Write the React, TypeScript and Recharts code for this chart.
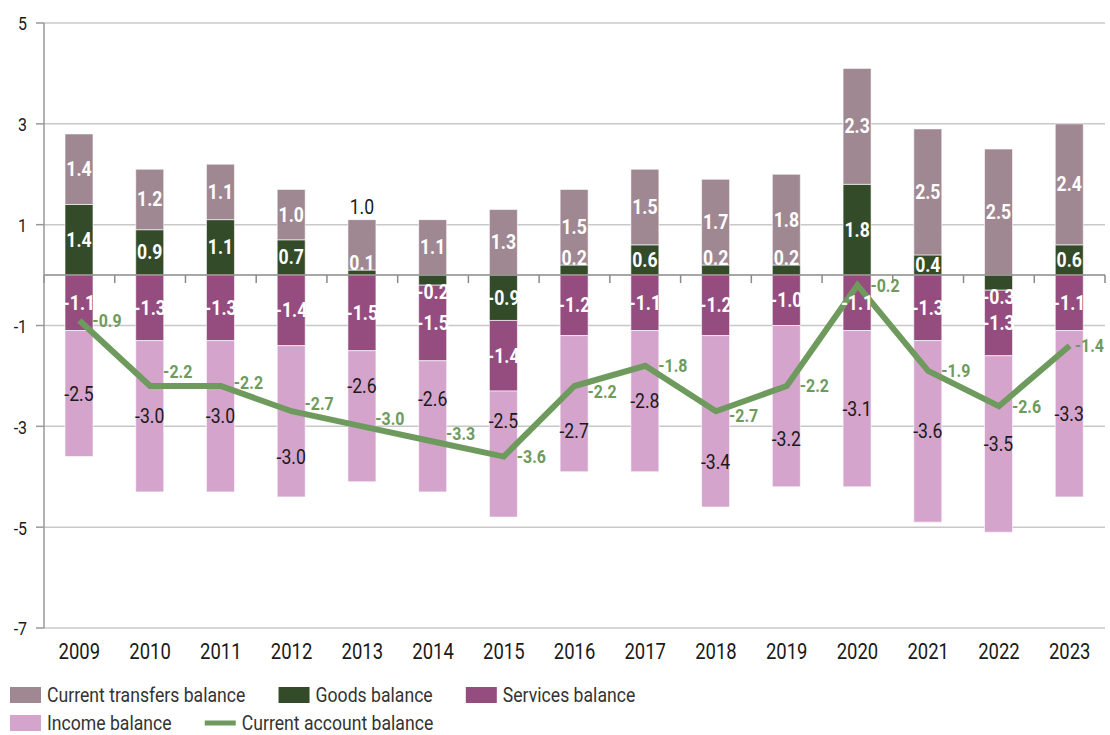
import React from 'react';
import { ComposedChart, Bar, Line, XAxis, YAxis, CartesianGrid, ReferenceLine, LabelList, Legend } from 'recharts';

const years = ['2009', '2010', '2011', '2012', '2013', '2014', '2015', '2016', '2017', '2018', '2019', '2020', '2021', '2022', '2023'];
const transfers = [1.4, 1.2, 1.1, 1.0, 1.0, 1.1, 1.3, 1.5, 1.5, 1.7, 1.8, 2.3, 2.5, 2.5, 2.4];
const goods = [1.4, 0.9, 1.1, 0.7, 0.1, -0.2, -0.9, 0.2, 0.6, 0.2, 0.2, 1.8, 0.4, -0.3, 0.6];
const services = [-1.1, -1.3, -1.3, -1.4, -1.5, -1.5, -1.4, -1.2, -1.1, -1.2, -1.0, -1.1, -1.3, -1.3, -1.1];
const income = [-2.5, -3.0, -3.0, -3.0, -2.6, -2.6, -2.5, -2.7, -2.8, -3.4, -3.2, -3.1, -3.6, -3.5, -3.3];
const currentAccount = [-0.9, -2.2, -2.2, -2.7, -3.0, -3.3, -3.6, -2.2, -1.8, -2.7, -2.2, -0.2, -1.9, -2.6, -1.4];
const yTicks = [-7, -5, -3, -1, 1, 3, 5];

// no condensed face installed, so squeeze Roboto horizontally
const FONT = 'Roboto, sans-serif';
const SX = 0.84;
const C_TRANSFERS = '#a08892';
const C_GOODS = '#344b29';
const C_SERVICES = '#954c7f';
const C_INCOME = '#d4a4cc';
const C_LINE = '#6e9b5d';
const C_TEXT = '#1a1a1a';

const CHART_W = 1110;
const CHART_H = 735;
const MARGIN_TOP = 23;
const LEGEND_H = 56;
const XAXIS_H = 51;
const PX_PER_UNIT = (CHART_H - MARGIN_TOP - LEGEND_H - XAXIS_H) / (yTicks[yTicks.length - 1] - yTicks[0]);

const data = years.map((year, i) => ({
    year,
    transfers: transfers[i],
    goods: goods[i],
    services: services[i],
    income: income[i],
    current: currentAccount[i],
}));

const edgeTicks = Array.from({ length: years.length + 1 }, (_, i) => i);

// small segments get their label pushed just past the outer edge
const SMALL = 0.35;

let ctx: CanvasRenderingContext2D | null = null;
const textWidth = (s: string, size = 21, bold = false) => {
    if (!ctx) ctx = document.createElement('canvas').getContext('2d');
    if (!ctx) return s.length * size * 0.45;
    ctx.font = `${bold ? 'bold ' : ''}${size}px ${FONT}`;
    return ctx.measureText(s).width * SX;
};

const Cond = ({ x, y, children, anchor = 'middle', fill = C_TEXT, size = 21, bold = false }: any) => (
    <text transform={`translate(${x},${y}) scale(${SX},1)`} x={0} y={0} textAnchor={anchor}
        dominantBaseline="central" fill={fill} fontSize={size} fontWeight={bold ? 700 : 400} fontFamily={FONT}>
        {children}
    </text>
);

const box = (p: any) => {
    const vb = p.viewBox || {};
    const x = p.x ?? vb.x;
    const y = p.y ?? vb.y;
    const w = p.width ?? vb.width ?? 0;
    const h = p.height ?? vb.height ?? 0;
    return { x: Number(x), y: Number(y), w: Number(w), h: Number(h) };
};

const GoodsLabel = (p: any) => {
    const v = goods[p.index];
    const { x, y, w, h } = box(p);
    const top = Math.min(y, y + h);
    const bottom = Math.max(y, y + h);
    let cy = (top + bottom) / 2;
    if (Math.abs(v) < SMALL) cy = v > 0 ? top - 7 : bottom + 7;
    return <Cond x={x + w / 2} y={cy} fill="#ffffff" bold>{v.toFixed(1)}</Cond>;
};

const TransfersLabel = (p: any) => {
    const v = transfers[p.index];
    const g = goods[p.index];
    const { x, y, w, h } = box(p);
    const top = Math.min(y, y + h);
    const bottom = Math.max(y, y + h);
    if (g > 0 && g < SMALL && v <= 1.0) {
        return <Cond x={x + w / 2} y={top - 13}>{v.toFixed(1)}</Cond>;
    }
    return <Cond x={x + w / 2} y={(top + bottom) / 2} fill="#ffffff" bold>{v.toFixed(1)}</Cond>;
};

const ServicesLabel = (p: any) => {
    const v = services[p.index];
    const { x, y, w, h } = box(p);
    return <Cond x={x + w / 2} y={y + h / 2} fill="#ffffff" bold>{v.toFixed(1)}</Cond>;
};

// income label moves off the current-account line when the line crosses it
const IncomeLabel = (p: any) => {
    const i = p.index;
    const v = income[i];
    const { x, y, w, h } = box(p);
    const top = Math.min(y, y + h);
    const bottom = Math.max(y, y + h);
    const upper = Math.min(goods[i], 0) + services[i];
    const lower = upper + v;
    const lineY = top + ((upper - currentAccount[i]) / (upper - lower)) * (bottom - top);
    let cy = (top + bottom) / 2;
    if (lineY > top && lineY < bottom && Math.abs(cy - lineY) < 25) {
        const above = lineY - 5 - top;
        const below = bottom - (lineY + 5);
        cy = above > below ? (top + lineY - 5) / 2 : (lineY + 5 + bottom) / 2;
    }
    return <Cond x={x + w / 2} y={cy}>{v.toFixed(1)}</Cond>;
};

// line label sits right of the point, nudged away from the outgoing segment
const LineLabel = (p: any) => {
    const i = p.index;
    const v = currentAccount[i];
    const txt = v.toFixed(1);
    const { x, y } = box(p);
    let dy = 0;
    if (i < currentAccount.length - 1) {
        const d = (currentAccount[i + 1] - v) * PX_PER_UNIT * (28 / 70);
        if (Math.abs(d) < 14) dy = d <= 0 ? -(14 - Math.abs(d)) : 14 - d;
    }
    const lx = Math.min(x + 13, CHART_W - 6 - textWidth(txt, 19, true));
    return <Cond x={lx} y={y + dy} anchor="start" fill={C_LINE} size={19} bold>{txt}</Cond>;
};

const XTick = (p: any) => (
    <Cond x={p.x} y={p.y} size={22}>{p.payload.value}</Cond>
);

const YTick = (p: any) => (
    <Cond x={p.x} y={p.y + 1} anchor="end" size={19}>{p.payload.value}</Cond>
);

const ZeroLine = (p: any) => {
    const { x1, y1, x2, y2 } = p;
    const step = (x2 - x1) / years.length;
    return (
        <g>
            <line x1={x1} y1={y1} x2={x2} y2={y2} stroke="#8a8a8a" strokeWidth={1.5} />
            {edgeTicks.map(i => (
                <line key={i} x1={x1 + i * step} x2={x1 + i * step} y1={y1} y2={y1 + 8} stroke="#8a8a8a" strokeWidth={1.5} />
            ))}
        </g>
    );
};

const legendRows = [
    [
        { name: 'Current transfers balance', color: C_TRANSFERS, kind: 'box' },
        { name: 'Goods balance', color: C_GOODS, kind: 'box' },
        { name: 'Services balance', color: C_SERVICES, kind: 'box' },
    ],
    [
        { name: 'Income balance', color: C_INCOME, kind: 'box' },
        { name: 'Current account balance', color: C_LINE, kind: 'line' },
    ],
];

const renderLegend = () => {
    const rowH = 28;
    return (
        <svg width={800} height={LEGEND_H} style={{ display: 'block' }}>
            {legendRows.map((row, r) => {
                let cx = 10;
                const cy = r * rowH + 16;
                return row.map(item => {
                    const x0 = cx;
                    const tw = textWidth(item.name);
                    cx += 31 + 7 + tw + 32;
                    return (
                        <g key={item.name}>
                            {item.kind === 'box'
                                ? <rect x={x0} y={cy - 8} width={31} height={16} fill={item.color} />
                                : <rect x={x0} y={cy - 2.5} width={31} height={5} fill={item.color} />}
                            <Cond x={x0 + 37} y={cy} anchor="start" fill="#333">{item.name}</Cond>
                        </g>
                    );
                });
            })}
        </svg>
    );
};

export default function App() {
    return (
        <div style={{ position: 'absolute', left: 0, top: 0, fontFamily: FONT }}>
            <ComposedChart width={CHART_W} height={CHART_H} data={data} stackOffset="sign"
                margin={{ top: MARGIN_TOP, right: 5, left: 0, bottom: 0 }}>
                <CartesianGrid vertical={false} stroke="#c8c8c8" strokeWidth={1.5} />
                <XAxis xAxisId="edge" type="number" domain={[0, years.length]} ticks={edgeTicks}
                    allowDataOverflow tick={false} tickSize={8} height={0}
                    axisLine={{ stroke: '#999', strokeWidth: 1.5 }} tickLine={{ stroke: '#999', strokeWidth: 1.5 }} />
                <XAxis xAxisId="cat" dataKey="year" axisLine={false} tickLine={false} tickSize={0} tickMargin={23}
                    height={XAXIS_H} interval={0} tick={XTick} />
                <YAxis domain={[-7, 5]} ticks={yTicks} width={44} tickSize={8} tickMargin={9}
                    axisLine={{ stroke: '#999', strokeWidth: 1.5 }} tickLine={{ stroke: '#999', strokeWidth: 1.5 }}
                    tick={YTick} allowDataOverflow />
                <Legend verticalAlign="bottom" align="left" height={LEGEND_H} content={renderLegend} />
                <Bar xAxisId="cat" dataKey="goods" name="Goods balance" stackId="a" fill={C_GOODS} barSize={28}
                    stroke="#ffffff" strokeWidth={0.6} isAnimationActive={false}>
                    <LabelList dataKey="goods" content={GoodsLabel} />
                </Bar>
                <Bar xAxisId="cat" dataKey="transfers" name="Current transfers balance" stackId="a" fill={C_TRANSFERS} barSize={28}
                    stroke="#ffffff" strokeWidth={0.6} isAnimationActive={false}>
                    <LabelList dataKey="transfers" content={TransfersLabel} />
                </Bar>
                <Bar xAxisId="cat" dataKey="services" name="Services balance" stackId="a" fill={C_SERVICES} barSize={28}
                    stroke="#ffffff" strokeWidth={0.6} isAnimationActive={false}>
                    <LabelList dataKey="services" content={ServicesLabel} />
                </Bar>
                <Bar xAxisId="cat" dataKey="income" name="Income balance" stackId="a" fill={C_INCOME} barSize={28}
                    stroke="#ffffff" strokeWidth={0.6} isAnimationActive={false}>
                    <LabelList dataKey="income" content={IncomeLabel} />
                </Bar>
                <ReferenceLine xAxisId="cat" y={0} shape={ZeroLine} />
                <Line xAxisId="cat" dataKey="current" name="Current account balance" stroke={C_LINE} strokeWidth={6}
                    dot={false} activeDot={false} strokeLinejoin="miter" isAnimationActive={false}>
                    <LabelList dataKey="current" content={LineLabel} />
                </Line>
            </ComposedChart>
        </div>
    );
}
